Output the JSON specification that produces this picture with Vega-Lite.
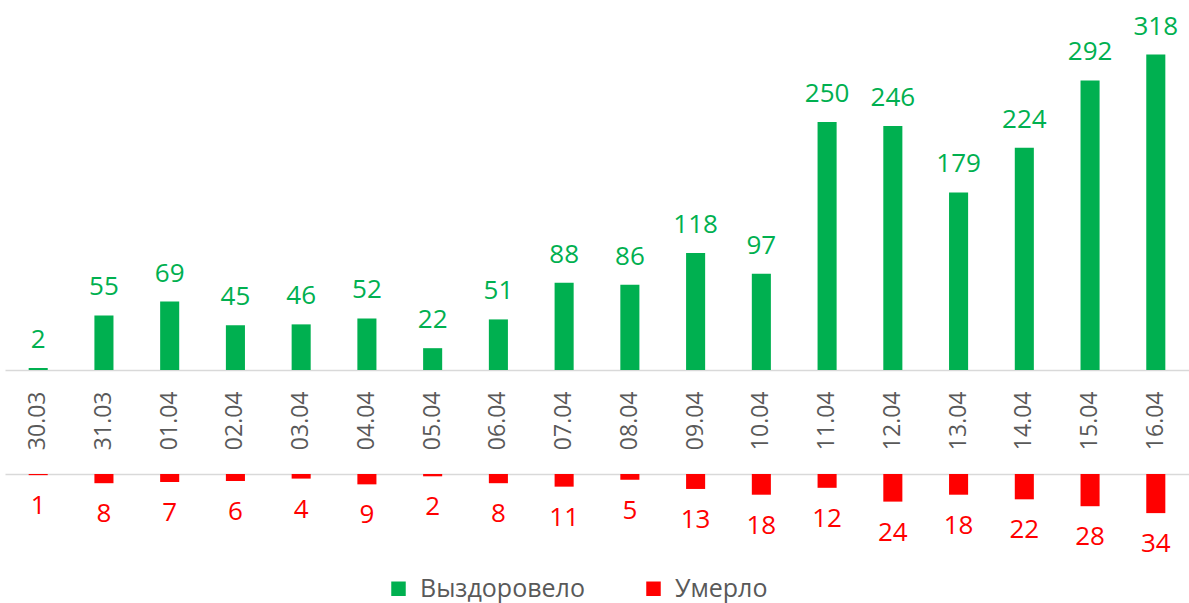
{
  "$schema": "https://vega.github.io/schema/vega-lite/v6.json",
  "background": "white",
  "padding": {"left": 5, "top": 5, "right": 0, "bottom": 5},
  "config": {"view": {"stroke": null}, "font": "Open Sans", "concat": {"spacing": 24}},
  "data": {"values": [
    {"date": "30.03", "series": "Выздоровело", "value": 2},
    {"date": "31.03", "series": "Выздоровело", "value": 55},
    {"date": "01.04", "series": "Выздоровело", "value": 69},
    {"date": "02.04", "series": "Выздоровело", "value": 45},
    {"date": "03.04", "series": "Выздоровело", "value": 46},
    {"date": "04.04", "series": "Выздоровело", "value": 52},
    {"date": "05.04", "series": "Выздоровело", "value": 22},
    {"date": "06.04", "series": "Выздоровело", "value": 51},
    {"date": "07.04", "series": "Выздоровело", "value": 88},
    {"date": "08.04", "series": "Выздоровело", "value": 86},
    {"date": "09.04", "series": "Выздоровело", "value": 118},
    {"date": "10.04", "series": "Выздоровело", "value": 97},
    {"date": "11.04", "series": "Выздоровело", "value": 250},
    {"date": "12.04", "series": "Выздоровело", "value": 246},
    {"date": "13.04", "series": "Выздоровело", "value": 179},
    {"date": "14.04", "series": "Выздоровело", "value": 224},
    {"date": "15.04", "series": "Выздоровело", "value": 292},
    {"date": "16.04", "series": "Выздоровело", "value": 318},
    {"date": "30.03", "series": "Умерло", "value": 1},
    {"date": "31.03", "series": "Умерло", "value": 8},
    {"date": "01.04", "series": "Умерло", "value": 7},
    {"date": "02.04", "series": "Умерло", "value": 6},
    {"date": "03.04", "series": "Умерло", "value": 4},
    {"date": "04.04", "series": "Умерло", "value": 9},
    {"date": "05.04", "series": "Умерло", "value": 2},
    {"date": "06.04", "series": "Умерло", "value": 8},
    {"date": "07.04", "series": "Умерло", "value": 11},
    {"date": "08.04", "series": "Умерло", "value": 5},
    {"date": "09.04", "series": "Умерло", "value": 13},
    {"date": "10.04", "series": "Умерло", "value": 18},
    {"date": "11.04", "series": "Умерло", "value": 12},
    {"date": "12.04", "series": "Умерло", "value": 24},
    {"date": "13.04", "series": "Умерло", "value": 18},
    {"date": "14.04", "series": "Умерло", "value": 22},
    {"date": "15.04", "series": "Умерло", "value": 28},
    {"date": "16.04", "series": "Умерло", "value": 34}
  ]},
  "vconcat": [
    {
      "width": 1184,
      "height": 365,
      "transform": [{"filter": "datum.series === 'Выздоровело'"}],
      "encoding": {
        "x": {"field": "date", "type": "nominal", "sort": null,
          "scale": {"paddingInner": 0.71, "paddingOuter": 0.36},
          "axis": {"title": null, "orient": "bottom", "labelAngle": -90, "labelPadding": 21, "ticks": false,
            "domainColor": "#d9d9d9", "domainWidth": 1.5, "labelColor": "#595959", "labelFontSize": 23}},
        "y": {"field": "value", "type": "quantitative", "scale": {"domain": [0, 368]}, "axis": null}
      },
      "layer": [
        {"mark": {"type": "bar"},
         "encoding": {"color": {"field": "series", "type": "nominal",
           "scale": {"domain": ["Выздоровело", "Умерло"], "range": ["#00B050", "#FF0000"]},
           "legend": {"title": null, "orient": "none", "legendX": 381, "legendY": 571, "direction": "horizontal", "symbolType": "square",
             "symbolSize": 210, "symbolStrokeWidth": 0, "labelFontSize": 25, "labelColor": "#595959", "labelLimit": 0,
             "columnPadding": 56, "labelOffset": 9}}}},
        {"mark": {"type": "text", "dy": -28, "baseline": "middle", "fontSize": 26, "color": "#00B050"},
         "encoding": {"text": {"field": "value", "type": "quantitative"}}}
      ]
    },
    {
      "width": 1184,
      "height": 84,
      "transform": [{"filter": "datum.series === 'Умерло'"}],
      "encoding": {
        "x": {"field": "date", "type": "nominal", "sort": null,
          "scale": {"paddingInner": 0.71, "paddingOuter": 0.36},
          "axis": {"title": null, "orient": "top", "labels": false, "ticks": false, "domainColor": "#d9d9d9", "domainWidth": 1.5}},
        "y": {"field": "value", "type": "quantitative", "scale": {"domain": [0, 73], "reverse": true}, "axis": null}
      },
      "layer": [
        {"mark": {"type": "bar"},
         "encoding": {"color": {"field": "series", "type": "nominal"}}},
        {"mark": {"type": "text", "dy": 31, "baseline": "middle", "fontSize": 26, "color": "#FF0000"},
         "encoding": {"text": {"field": "value", "type": "quantitative"}}}
      ]
    }
  ]
}
